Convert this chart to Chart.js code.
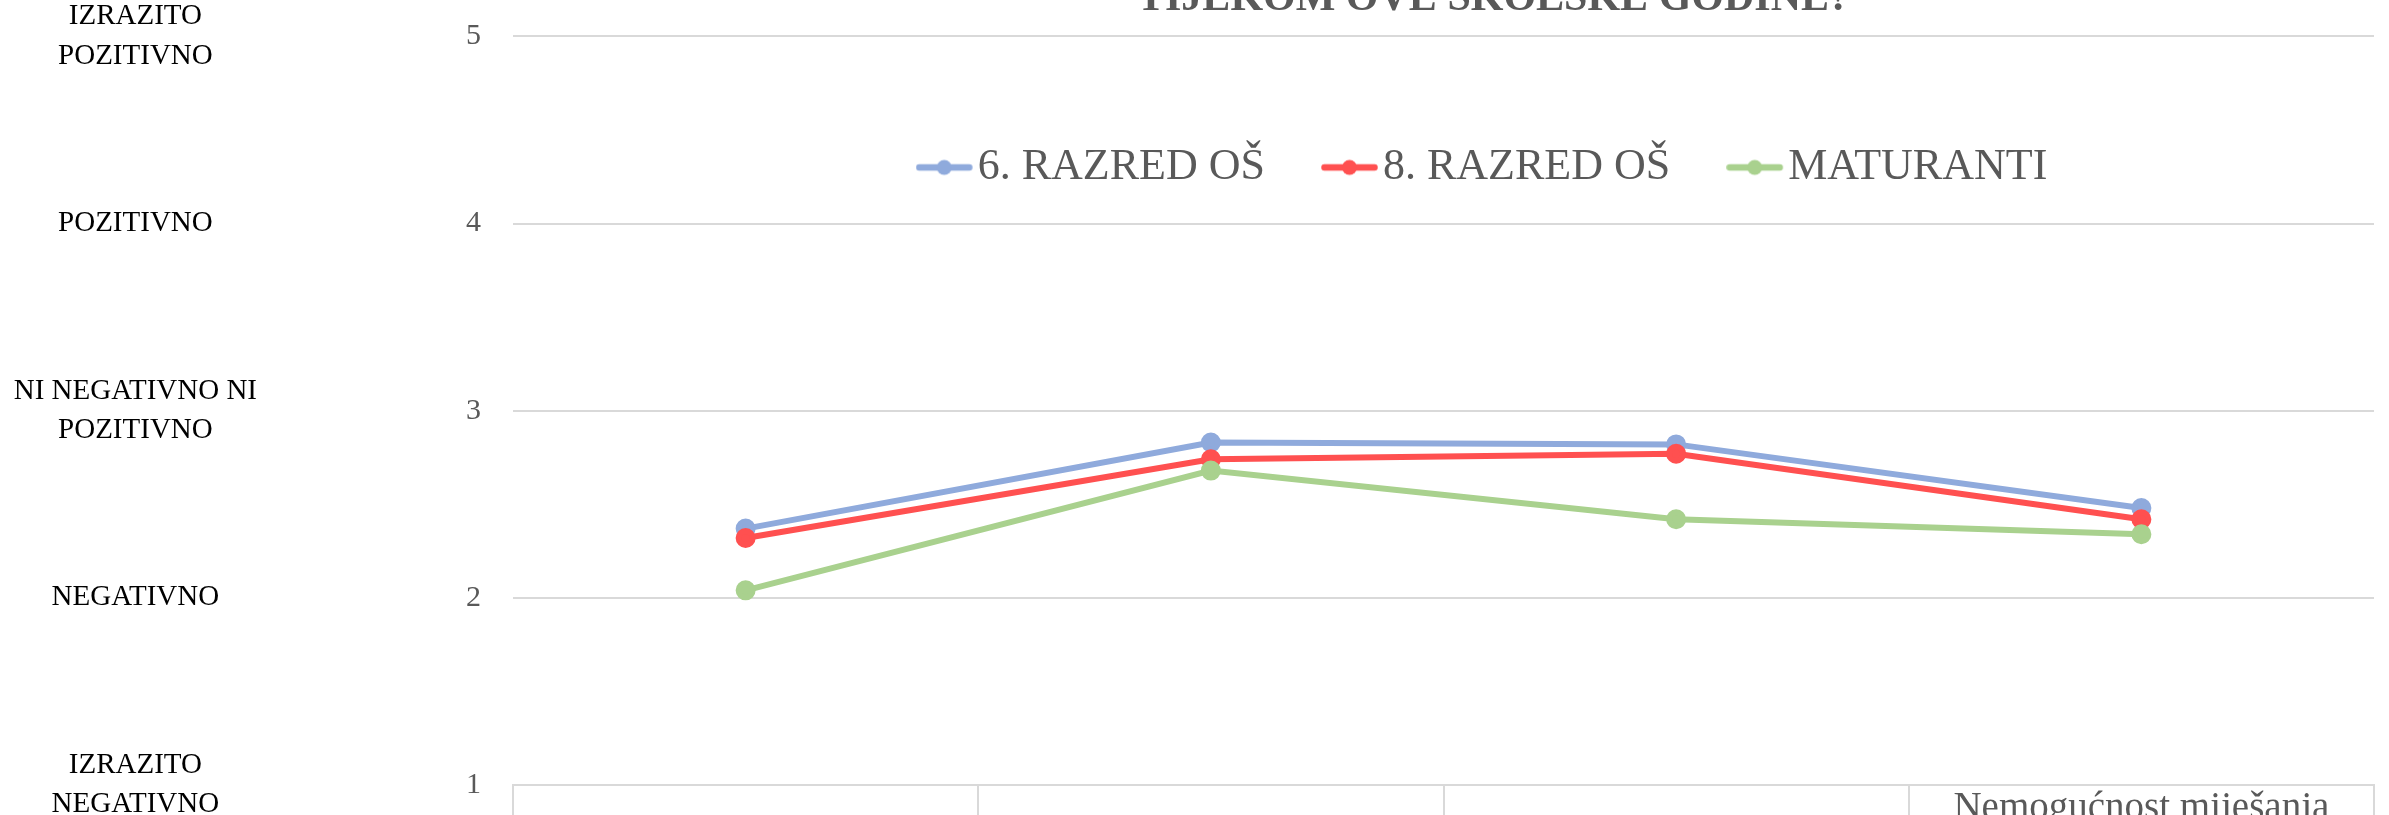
<!DOCTYPE html>
<html>
<head>
<meta charset="utf-8">
<script src="https://cdn.jsdelivr.net/npm/chart.js@4"></script>
<style>
    html, body { margin: 0; padding: 0; background: #fff; overflow: hidden; }
    #wrap { position: absolute; left: 0; top: -26px; width: 2389px; height: 871px; }
</style>
</head>
<body>
<div id="wrap"><canvas id="ratingChart"></canvas></div>
<script>
const categories = ["", "", "", "Nemogućnost miješanja"];
const seriesNames = ["6. RAZRED OŠ", "8. RAZRED OŠ", "MATURANTI"];
const grade6 = [2.37, 2.83, 2.82, 2.48];
const grade8 = [2.32, 2.74, 2.77, 2.42];
const seniors = [2.04, 2.68, 2.42, 2.34];
const levelLabels = [
    ["IZRAZITO", "NEGATIVNO"],
    "NEGATIVNO",
    ["NI NEGATIVNO NI", "POZITIVNO"],
    "POZITIVNO",
    ["IZRAZITO", "POZITIVNO"]
];
const titleText = "TIJEKOM OVE ŠKOLSKE GODINE?";

const colors = ["#8faadc", "#ff5050", "#a9d18e"];
const serif = "'Liberation Serif', serif";

// little line + dot picture for the legend, like excel
function markerImage(color) {
    const c = document.createElement("canvas");
    c.width = 64;
    c.height = 18;
    const g = c.getContext("2d");
    g.strokeStyle = color;
    g.lineWidth = 6.5;
    g.lineCap = "round";
    g.beginPath();
    g.moveTo(3.5, 9);
    g.lineTo(53.5, 9);
    g.stroke();
    g.fillStyle = color;
    g.beginPath();
    g.arc(28.5, 9, 7.5, 0, Math.PI * 2);
    g.fill();
    return c;
}
const markers = colors.map(markerImage);

// legend sits inside the plot area, title/legend centred a bit right
const overlayLegend = {
    id: "overlayLegend",
    afterLayout(chart) {
        const area = chart.chartArea;
        const lg = chart.legend;
        lg.left = area.left + 100;
        lg.right = area.right;
        lg.top = area.top + 29;
        lg.bottom = lg.top + 200;
        lg.height = 200;
        lg.width = lg.right - lg.left;
        const tb = chart.titleBlock;
        tb.left = area.left + 100;
        tb.right = area.right;
        tb.width = tb.right - tb.left;
    }
};

function makeDataset(i, values, order) {
    return {
        label: seriesNames[i],
        data: values,
        borderColor: colors[i],
        backgroundColor: colors[i],
        pointBackgroundColor: colors[i],
        pointBorderColor: colors[i],
        borderWidth: 6,
        pointRadius: 7,
        pointHoverRadius: 7,
        tension: 0,
        order: order
    };
}

document.addEventListener("DOMContentLoaded", function() {
    const ctx = document.getElementById("ratingChart").getContext("2d");
    new Chart(ctx, {
        type: "line",
        data: {
            labels: categories,
            datasets: [
                makeDataset(0, grade6, 3),
                makeDataset(1, grade8, 2),
                makeDataset(2, seniors, 1)
            ]
        },
        options: {
            responsive: true,
            maintainAspectRatio: false,
            animation: false,
            events: [],
            layout: { padding: { left: 0, right: 15, top: 0, bottom: 0 } },
            plugins: {
                tooltip: { enabled: false },
                title: {
                    display: true,
                    text: titleText,
                    color: "#595959",
                    font: { family: serif, size: 42, weight: "bold" },
                    padding: { top: 0, bottom: 11 }
                },
                legend: {
                    display: true,
                    position: "top",
                    maxHeight: 1,
                    labels: {
                        usePointStyle: true,
                        pointStyleWidth: 16,
                        padding: 80,
                        color: "#595959",
                        font: { family: serif, size: 44 },
                        sort: (a, b) => a.datasetIndex - b.datasetIndex,
                        generateLabels(chart) {
                            const items = Chart.defaults.plugins.legend.labels.generateLabels(chart);
                            items.forEach(it => { it.pointStyle = markers[it.datasetIndex]; });
                            return items;
                        }
                    }
                }
            },
            scales: {
                x: {
                    offset: true,
                    grid: {
                        offset: true,
                        drawOnChartArea: false,
                        drawTicks: true,
                        tickLength: 40,
                        color: "#d9d9d9",
                        lineWidth: 2
                    },
                    border: { display: true, color: "#d9d9d9", width: 2 },
                    ticks: {
                        padding: -40,
                        color: "#595959",
                        maxRotation: 0,
                        autoSkip: false,
                        font: { family: serif, size: 39 }
                    },
                    afterFit(scale) { scale.height = 60; }
                },
                y: {
                    position: "left",
                    weight: 0,
                    min: 1,
                    max: 5,
                    grid: { color: "#d9d9d9", lineWidth: 2, drawTicks: false },
                    border: { display: false },
                    ticks: {
                        stepSize: 1,
                        padding: 32,
                        color: "#595959",
                        font: { family: serif, size: 30 }
                    },
                    afterFit(scale) { scale.width = 256; }
                },
                yText: {
                    position: "left",
                    weight: 1,
                    min: 1,
                    max: 5,
                    grid: { display: false, drawTicks: false },
                    border: { display: false },
                    ticks: {
                        stepSize: 1,
                        padding: 0,
                        crossAlign: "center",
                        color: "#000000",
                        font: { family: serif, size: 29, lineHeight: 1.35 },
                        callback: (value) => levelLabels[value - 1]
                    },
                    afterFit(scale) { scale.width = 257; }
                }
            }
        },
        plugins: [overlayLegend]
    });
});
</script>
</body>
</html>
